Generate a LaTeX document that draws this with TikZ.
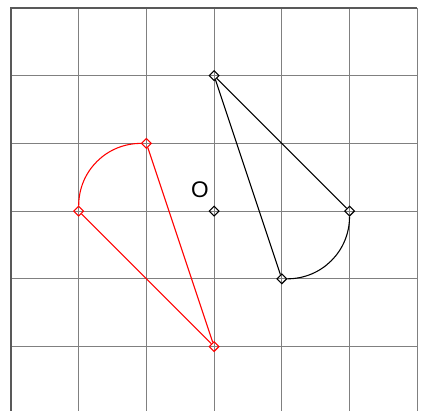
\documentclass[tikz,border=0pt]{standalone}
\usepackage{fontspec}
\setsansfont{Liberation Sans}
\usetikzlibrary{shapes.geometric}
\begin{document}
\begin{tikzpicture}[x=1cm,y=1cm,
  pt/.style={diamond,draw,inner sep=0pt,minimum size=.15cm,line width=.45pt},
  gridline/.style={black!50,line width=.5pt}]
\useasboundingbox (-3.1625,-2.938) rectangle (3.10,3.118);
\clip (-3.1625,-2.938) rectangle (3.10,3.118);
\draw[gridline] (-3,-3) grid (3,3);
\draw[black!65,line width=.5pt] (-3,-3) -- (-3,3) -- (3,3);
\node[font=\sffamily\fontsize{9.5}{11}\selectfont] (olabel) at (-0.21,0.31) {O};
\node[pt] (o) at (0,0) {};
\node[pt] (a) at (0,2) {};
\node[pt] (b) at (2,0) {};
\node[pt] (c) at (1,-1) {};
\draw[line width=.45pt] (a) -- (b);
\draw[line width=.45pt] (a) -- (c);
\draw[line width=.45pt] (b) to[out=-90,in=0] (c);
\node[pt,red] (ar) at (0,-2) {};
\node[pt,red] (br) at (-2,0) {};
\node[pt,red] (cr) at (-1,1) {};
\draw[red,line width=.45pt] (ar) -- (br);
\draw[red,line width=.45pt] (ar) -- (cr);
\draw[red,line width=.45pt] (br) to[out=90,in=180] (cr);
\end{tikzpicture}
\end{document}
